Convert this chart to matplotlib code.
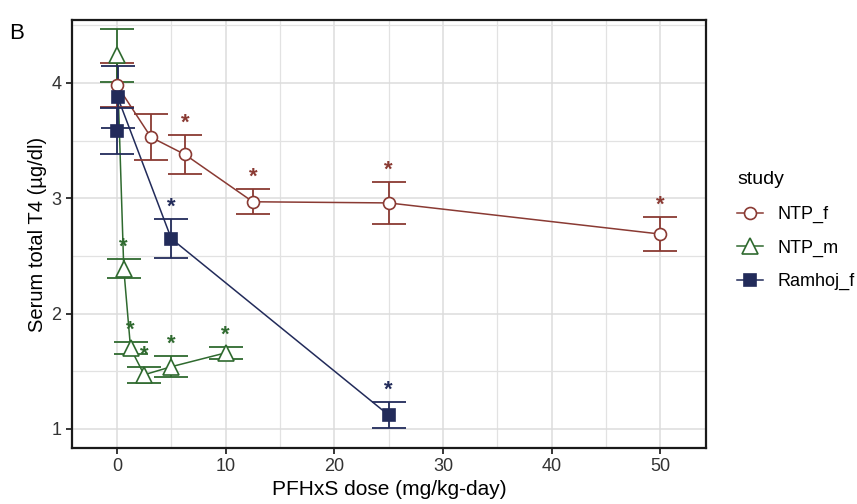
import matplotlib
matplotlib.use("Agg")
import matplotlib.pyplot as plt
from matplotlib.lines import Line2D

plt.rcParams['font.family'] = ['Liberation Sans', 'DejaVu Sans']

# serum total T4, mean +/- SE per dose group
ntp_f_dose = [0, 3.125, 6.25, 12.5, 25, 50]
ntp_f_mean = [3.98, 3.53, 3.38, 2.97, 2.96, 2.69]
ntp_f_se = [0.19, 0.20, 0.17, 0.11, 0.18, 0.15]
ntp_f_sig = [False, False, True, True, True, True]

ntp_m_dose = [0, 0.625, 1.25, 2.5, 5, 10]
ntp_m_mean = [4.24, 2.39, 1.70, 1.47, 1.54, 1.66]
ntp_m_se = [0.23, 0.08, 0.05, 0.07, 0.09, 0.05]
ntp_m_sig = [False, True, True, True, True, True]

ramhoj_f_dose = [0, 0.05, 5, 25]
ramhoj_f_mean = [3.58, 3.88, 2.65, 1.12]
ramhoj_f_se = [0.20, 0.27, 0.17, 0.11]
ramhoj_f_sig = [False, False, True, True]

x_ticks = [0, 10, 20, 30, 40, 50]
y_ticks = [1, 2, 3, 4]

studies = [
    ("NTP_f", ntp_f_dose, ntp_f_mean, ntp_f_se, ntp_f_sig,
     dict(color="#8a3a33", marker="o", ms=8.6, mfc="white")),
    ("NTP_m", ntp_m_dose, ntp_m_mean, ntp_m_se, ntp_m_sig,
     dict(color="#2f6a2f", marker="^", ms=11.5, mfc="white")),
    ("Ramhoj_f", ramhoj_f_dose, ramhoj_f_mean, ramhoj_f_se, ramhoj_f_sig,
     dict(color="#222b5a", marker="s", ms=8.6, mfc="#222b5a")),
]

fig = plt.figure(figsize=(8.57, 5.04), dpi=100)
ax = fig.add_axes([0.0840, 0.1111, 0.7398, 0.8492])

ax.set_xlim(-4.14, 54.2)
ax.set_ylim(0.835, 4.546)
ax.set_xticks(x_ticks)
ax.set_yticks(y_ticks)
ax.set_xticks([5, 15, 25, 35, 45], minor=True)
ax.set_yticks([1.5, 2.5, 3.5, 4.5], minor=True)
ax.grid(True, which="major", color="#dcdcdc", lw=1.1, zorder=0)
ax.grid(True, which="minor", color="#e2e2e2", lw=0.9, zorder=0)
ax.set_axisbelow(True)
ax.tick_params(which="minor", length=0)
ax.tick_params(which="major", length=4, width=1.1, color="black",
               labelsize=13, labelcolor="#333333")

for s in ax.spines.values():
    s.set_linewidth(1.6)
    s.set_color("#1a1a1a")

handles = []
for name, dose, mean, se, sig, st in studies:
    c = st["color"]
    ax.plot(dose, mean, color=c, lw=1.1, zorder=2)
    ax.errorbar(dose, mean, yerr=se, fmt="none", ecolor=c, elinewidth=1.3,
                capsize=11.9, capthick=1.3, zorder=3)
    ax.plot(dose, mean, ls="none", marker=st["marker"], ms=st["ms"],
            mfc=st["mfc"], mec=c, mew=1.2, zorder=4)
    # significance marks sit just above the upper error cap
    for d, m, e, flag in zip(dose, mean, se, sig):
        if flag:
            ax.annotate("*", (d, m + e), xytext=(0, 1), textcoords="offset points",
                        ha="center", va="bottom", color=c, fontsize=16,
                        fontweight="bold", zorder=5)
    handles.append(Line2D([], [], color=c, lw=1.1, marker=st["marker"],
                          ms=st["ms"], mfc=st["mfc"], mec=c, mew=1.2, label=name))

ax.set_xlabel("PFHxS dose (mg/kg-day)", fontsize=15, labelpad=3)
ax.set_ylabel("Serum total T4 (µg/dl)", fontsize=14.5, labelpad=3)

leg = fig.legend(handles=handles, title="study", loc="upper left",
                 bbox_to_anchor=(0.852, 0.675), frameon=False, fontsize=13,
                 title_fontsize=14, alignment="left", handlelength=1.4,
                 labelspacing=0.9, handletextpad=0.8, borderaxespad=0,
                 borderpad=0.4)
leg._legend_box.sep = 13

fig.text(0.0105, 1 - 39 / 504, "B", fontsize=16, family="Liberation Sans")

fig.savefig("out.png", dpi=100)
